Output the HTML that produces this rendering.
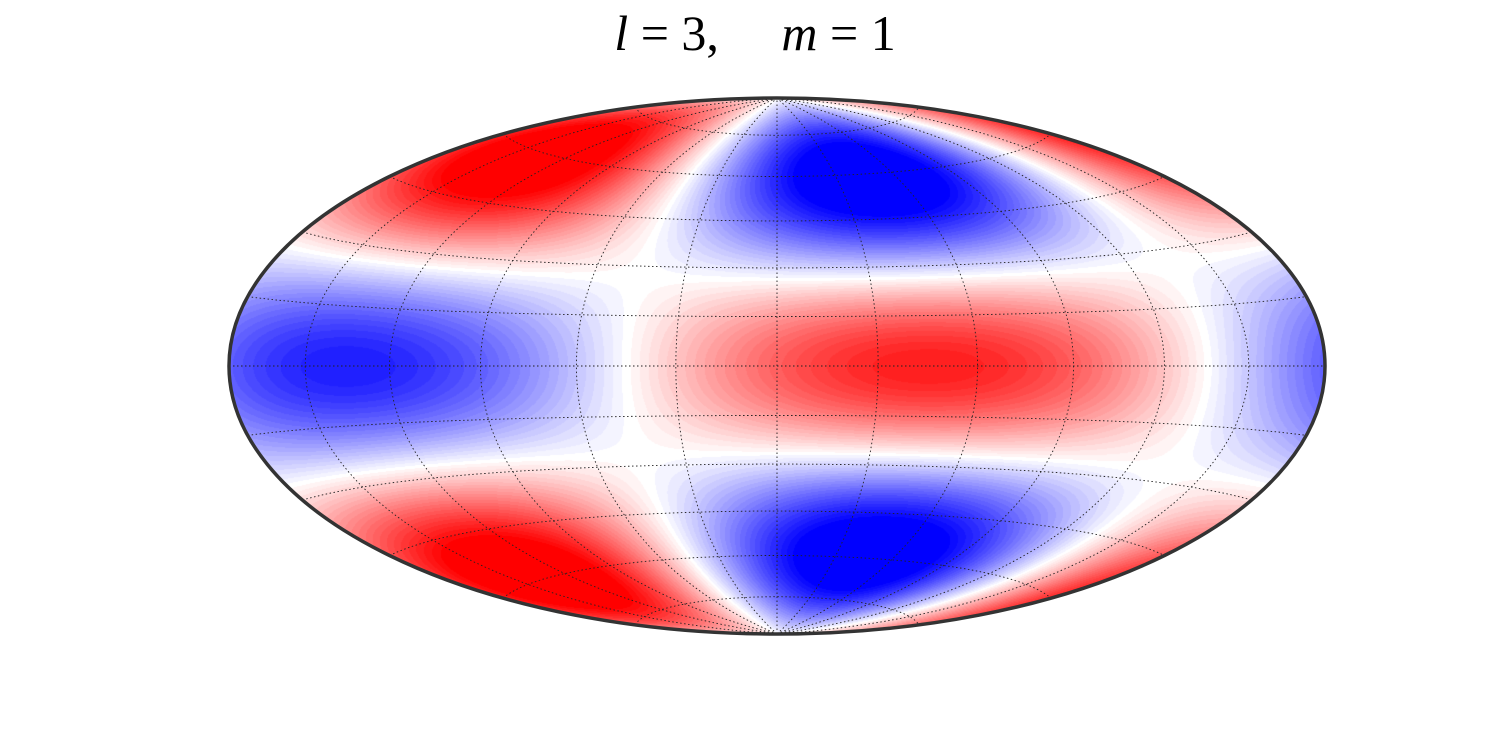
<!DOCTYPE html>
<html><head><meta charset="utf-8">
<style>
html,body{margin:0;padding:0;background:#fff;}
#wrap{position:relative;width:1500px;height:750px;overflow:hidden;}
#title{position:absolute;left:0;width:1500px;top:4px;text-align:center;font-family:"Liberation Serif",serif;font-size:50px;color:#000;white-space:pre;padding-left:10px;box-sizing:border-box;}
#title i{font-style:italic;}
canvas,svg{position:absolute;left:0;top:0;}
</style></head>
<body>
<div id="wrap">
<div id="title"><i>l</i> = 3,     <i>m</i> = 1</div>
<canvas id="cv" width="1500" height="750"></canvas>
<svg id="sv" width="1500" height="750"></svg>
</div>
<script>
// harmonic parameters
const degree = [3];
const order = [1];
const phaseDeg = [45];
const parallels = [-75,-60,-45,-30,-15,0,15,30,45,60,75];
const meridians = [-150,-120,-90,-60,-30,0,30,60,90,120,150];

const cx=777, cy=366, A=548, B=268, LEVELS=24, SAT=1.12;
const R2=Math.SQRT2;
function legendreP31(c){const s=Math.sqrt(Math.max(0,1-c*c));return s*(5*c*c-1);}
function hammer(latD,lonD){
  const p=latD*Math.PI/180,l=lonD*Math.PI/180;
  const d=Math.sqrt(1+Math.cos(p)*Math.cos(l/2));
  const x=2*R2*Math.cos(p)*Math.sin(l/2)/d, y=R2*Math.sin(p)/d;
  return [cx+x/(2*R2)*A, cy-y/R2*B];
}
const cv=document.getElementById('cv'),ctx=cv.getContext('2d');
const img=ctx.createImageData(1500,750);
for(let py=cy-B;py<=cy+B;py++){
  const y=(cy-py)/B*R2;
  for(let px=cx-A;px<=cx+A;px++){
    const x=(px-cx)/A*2*R2;
    if((x*x)/8+(y*y)/2>1)continue;
    const z=Math.sqrt(1-(x/4)*(x/4)-(y/2)*(y/2));
    const lam=2*Math.atan2(z*x,2*(2*z*z-1));
    const lat=Math.asin(Math.max(-1,Math.min(1,z*y)));
    const c=Math.sin(lat);
    let f=-legendreP31(c)*Math.cos(order[0]*lam-phaseDeg[0]*Math.PI/180);
    let v=Math.max(-1,Math.min(1,f/SAT));
    v=Math.round(v*LEVELS)/LEVELS;
    let r,g,b; const k=1-Math.abs(v);
    if(v>=0){r=255;g=255*k;b=255*k;}else{r=255*k;g=255*k;b=255;}
    const i=(py*1500+px)*4; img.data[i]=r;img.data[i+1]=g;img.data[i+2]=b;img.data[i+3]=255;
  }
}
ctx.putImageData(img,0,0);
const sv=document.getElementById('sv'),NS='http://www.w3.org/2000/svg';
parallels.forEach(la=>{
  let d='';for(let lo=-180;lo<=180;lo+=3){const p=hammer(la,lo);d+=(lo===-180?'M':'L')+p[0].toFixed(1)+','+p[1].toFixed(1);}
  const pa=document.createElementNS(NS,'path');
  
  
  pa.setAttribute('d',d);pa.setAttribute('fill','none');pa.setAttribute('stroke','#222');pa.setAttribute('stroke-width','0.9');pa.setAttribute('stroke-dasharray','1.5,2.5');
  sv.appendChild(pa);
});
meridians.forEach(lo=>{
  let d='';for(let la=-90;la<=90;la+=2){const p=hammer(la,lo);d+=(la===-90?'M':'L')+p[0].toFixed(1)+','+p[1].toFixed(1);}
  const pa=document.createElementNS(NS,'path');
  
  
  pa.setAttribute('d',d);pa.setAttribute('fill','none');pa.setAttribute('stroke','#222');pa.setAttribute('stroke-width','0.9');pa.setAttribute('stroke-dasharray','1.5,2.5');
  sv.appendChild(pa);
});
const e=document.createElementNS(NS,'ellipse');


e.setAttribute('cx',cx);e.setAttribute('cy',cy);e.setAttribute('rx',A);e.setAttribute('ry',B);
e.setAttribute('fill','none');e.setAttribute('stroke','#333');e.setAttribute('stroke-width','3.5');
sv.appendChild(e);
</script>
</body></html>
